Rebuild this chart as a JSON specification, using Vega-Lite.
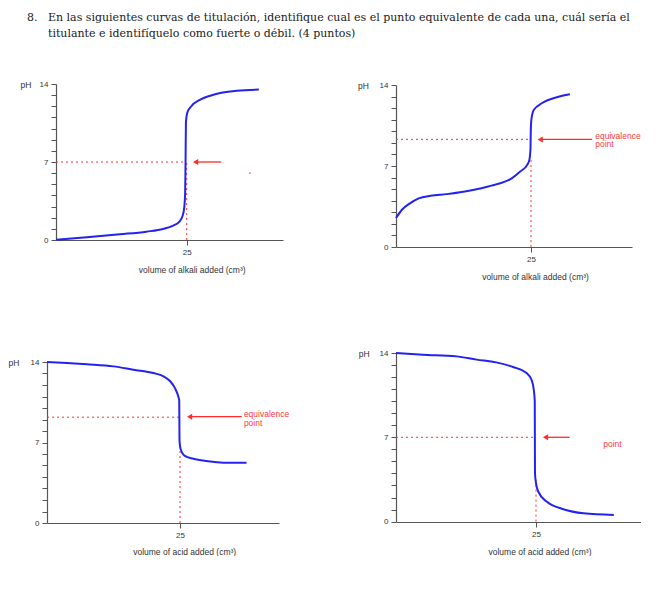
{
  "$schema": "https://vega.github.io/schema/vega-lite/v6.json",
  "background": "white",
  "padding": {"left": 8, "top": 12, "right": 0, "bottom": 0},
  "title": {
    "text": [
      "8.\u00a0\u00a0\u00a0En las siguientes curvas de titulación, identifique cual es el punto equivalente de cada una, cuál sería el",
      "\u200b\u00a0\u00a0\u00a0\u00a0\u00a0\u00a0titulante e identifíquelo como fuerte o débil. (4 puntos)"
    ],
    "anchor": "start",
    "frame": "bounds",
    "dx": 19,
    "font": "DejaVu Serif",
    "fontSize": 11,
    "fontWeight": "normal",
    "color": "#1a1a1a",
    "lineHeight": 16,
    "offset": 41
  },
  "config": {
    "view": {"stroke": null},
    "axis": {
      "grid": false,
      "domainColor": "#555555",
      "domainWidth": 1.2,
      "tickColor": "#555555",
      "tickSize": 5,
      "tickWidth": 1,
      "labelFont": "Liberation Sans",
      "labelFontSize": 8,
      "labelColor": "#333333",
      "labelPadding": 3,
      "labelFlush": false,
      "labelOverlap": false,
      "titleFont": "Liberation Sans",
      "titleFontSize": 8.5,
      "titleFontWeight": "normal",
      "titleColor": "#333333"
    }
  },
  "datasets": {
    "curves": [
      {"panel": 1, "v": 0, "pH": 0.02}, {"panel": 1, "v": 5.9, "pH": 0.24}, {"panel": 1, "v": 12.2, "pH": 0.51},
      {"panel": 1, "v": 17.3, "pH": 0.75}, {"panel": 1, "v": 20.5, "pH": 0.99}, {"panel": 1, "v": 22.4, "pH": 1.29},
      {"panel": 1, "v": 23.6, "pH": 1.65}, {"panel": 1, "v": 24.2, "pH": 2.15}, {"panel": 1, "v": 24.55, "pH": 3.0},
      {"panel": 1, "v": 24.7, "pH": 4.2}, {"panel": 1, "v": 24.78, "pH": 6.9}, {"panel": 1, "v": 24.85, "pH": 10.5},
      {"panel": 1, "v": 25.1, "pH": 11.4}, {"panel": 1, "v": 25.8, "pH": 11.96}, {"panel": 1, "v": 27.6, "pH": 12.6},
      {"panel": 1, "v": 29.5, "pH": 12.95}, {"panel": 1, "v": 31.4, "pH": 13.2}, {"panel": 1, "v": 34.6, "pH": 13.4},
      {"panel": 1, "v": 38.8, "pH": 13.5},
      {"panel": 2, "v": 0, "pH": 2.5}, {"panel": 2, "v": 1.1, "pH": 3.22}, {"panel": 2, "v": 2.65, "pH": 3.79},
      {"panel": 2, "v": 4.2, "pH": 4.2}, {"panel": 2, "v": 6.4, "pH": 4.43}, {"panel": 2, "v": 9.4, "pH": 4.57},
      {"panel": 2, "v": 12.5, "pH": 4.77}, {"panel": 2, "v": 15.6, "pH": 5.06}, {"panel": 2, "v": 18.7, "pH": 5.43},
      {"panel": 2, "v": 21.2, "pH": 5.86}, {"panel": 2, "v": 23.0, "pH": 6.52}, {"panel": 2, "v": 24.3, "pH": 7.1},
      {"panel": 2, "v": 24.7, "pH": 7.53}, {"panel": 2, "v": 24.9, "pH": 8.4}, {"panel": 2, "v": 24.95, "pH": 9.83},
      {"panel": 2, "v": 25.06, "pH": 10.98}, {"panel": 2, "v": 25.5, "pH": 11.84}, {"panel": 2, "v": 27.0, "pH": 12.42},
      {"panel": 2, "v": 29.8, "pH": 12.94}, {"panel": 2, "v": 32.2, "pH": 13.2},
      {"panel": 3, "v": 0, "pH": 14.0}, {"panel": 3, "v": 3.75, "pH": 13.91}, {"panel": 3, "v": 7.5, "pH": 13.8},
      {"panel": 3, "v": 12.5, "pH": 13.62}, {"panel": 3, "v": 16.25, "pH": 13.33}, {"panel": 3, "v": 20, "pH": 13.04},
      {"panel": 3, "v": 21.9, "pH": 12.75}, {"panel": 3, "v": 23.1, "pH": 12.35}, {"panel": 3, "v": 24.1, "pH": 11.68},
      {"panel": 3, "v": 24.7, "pH": 10.96}, {"panel": 3, "v": 24.85, "pH": 10.67}, {"panel": 3, "v": 24.9, "pH": 7.19},
      {"panel": 3, "v": 25.1, "pH": 6.46}, {"panel": 3, "v": 25.9, "pH": 5.83}, {"panel": 3, "v": 27.5, "pH": 5.59},
      {"panel": 3, "v": 30, "pH": 5.39}, {"panel": 3, "v": 33.1, "pH": 5.25}, {"panel": 3, "v": 37.5, "pH": 5.25},
      {"panel": 4, "v": 0, "pH": 14.0}, {"panel": 4, "v": 4.8, "pH": 13.86}, {"panel": 4, "v": 10.8, "pH": 13.72},
      {"panel": 4, "v": 14.4, "pH": 13.45}, {"panel": 4, "v": 17.9, "pH": 13.22}, {"panel": 4, "v": 20.9, "pH": 12.84},
      {"panel": 4, "v": 23.3, "pH": 12.34}, {"panel": 4, "v": 24.2, "pH": 11.78}, {"panel": 4, "v": 24.6, "pH": 10.95},
      {"panel": 4, "v": 24.78, "pH": 9.98}, {"panel": 4, "v": 24.8, "pH": 6.79}, {"panel": 4, "v": 24.82, "pH": 4.02},
      {"panel": 4, "v": 25.0, "pH": 3.19}, {"panel": 4, "v": 25.4, "pH": 2.5}, {"panel": 4, "v": 26.9, "pH": 1.66},
      {"panel": 4, "v": 29.9, "pH": 1.03}, {"panel": 4, "v": 33.5, "pH": 0.69}, {"panel": 4, "v": 38.9, "pH": 0.55}
    ],
    "guides": [
      {"panel": 1, "v": 0, "v2": 24.8, "pH": 7, "pH2": 7}, {"panel": 1, "v": 25, "v2": 25, "pH": 0, "pH2": 7},
      {"panel": 2, "v": 0, "v2": 24.8, "pH": 9.3, "pH2": 9.3}, {"panel": 2, "v": 25, "v2": 25, "pH": 0, "pH2": 7.8},
      {"panel": 3, "v": 0, "v2": 24.9, "pH": 9.2, "pH2": 9.2}, {"panel": 3, "v": 25, "v2": 25, "pH": 0, "pH2": 6.3},
      {"panel": 4, "v": 0, "v2": 24.8, "pH": 7, "pH2": 7}, {"panel": 4, "v": 25, "v2": 25, "pH": 0, "pH2": 3.5}
    ],
    "arrows": [
      {"panel": 1, "v": 26.7, "v2": 31.6, "pH": 7},
      {"panel": 2, "v": 26.7, "v2": 36.3, "pH": 9.3},
      {"panel": 3, "v": 26.8, "v2": 36.6, "pH": 9.25},
      {"panel": 4, "v": 26.7, "v2": 31.0, "pH": 7}
    ],
    "labels": [
      {"panel": 2, "v": 36.9, "pH": 9.32, "text": "equivalence"},
      {"panel": 2, "v": 36.9, "pH": 8.6, "text": "point"},
      {"panel": 3, "v": 37.0, "pH": 9.23, "text": "equivalence"},
      {"panel": 3, "v": 37.0, "pH": 8.47, "text": "point"},
      {"panel": 4, "v": 37.0, "pH": 6.17, "text": "point"}
    ],
    "dots": [
      {"panel": 1, "v": 37.1, "pH": 6.0}
    ]
  },
  "columns": 2,
  "align": "all",
  "bounds": "flush",
  "spacing": {"row": 99, "column": 104},
  "concat": [
    {
      "width": 245, "height": 170,
      "encoding": {
        "x": {"field": "v", "type": "quantitative",
          "scale": {"domain": [0, 43.42], "range": [9, 236], "nice": false, "zero": false},
          "axis": {"values": [25], "title": "volume of alkali added (cm³)", "titleX": 144.7, "titleY": 29, "titleBaseline": "middle", "titleAlign": "center", "offset": -14}},
        "y": {"field": "pH", "type": "quantitative",
          "scale": {"domain": [0, 14], "range": [156, 0], "nice": false, "zero": false},
          "axis": {"values": [0,1,2,3,4,5,6,7,8,9,10,11,12,13,14], "labelExpr": "datum.value % 7 === 0 ? datum.label : ''", "title": "pH", "titleAngle": 0, "titleAlign": "left", "titleBaseline": "middle", "titleX": -36, "titleY": 0, "offset": -9}}
      },
      "layer": [
        {"data": {"name": "guides"}, "transform": [{"filter": "datum.panel == 1"}],
         "mark": {"type": "rule", "color": "#ff3030", "strokeDash": [2, 3], "strokeWidth": 1},
         "encoding": {"x2": {"field": "v2"}, "y2": {"field": "pH2"}}},
        {"data": {"name": "curves"}, "transform": [{"filter": "datum.panel == 1"}],
         "mark": {"type": "line", "color": "#2323f0", "strokeWidth": 2, "interpolate": "monotone"}},
        {"data": {"name": "arrows"}, "transform": [{"filter": "datum.panel == 1"}],
         "mark": {"type": "rule", "color": "#ff2a2a", "strokeWidth": 1.3},
         "encoding": {"x2": {"field": "v2"}}},
        {"data": {"name": "arrows"}, "transform": [{"filter": "datum.panel == 1"}],
         "mark": {"type": "point", "shape": "triangle-left", "filled": true, "color": "#ff2a2a", "size": 36, "opacity": 1}},
        {"data": {"name": "dots"}, "transform": [{"filter": "datum.panel == 1"}],
         "mark": {"type": "square", "color": "#ff3030", "size": 2, "opacity": 1}}
      ]
    },
    {
      "width": 245, "height": 170,
      "encoding": {
        "x": {"field": "v", "type": "quantitative",
          "scale": {"domain": [0, 43.7], "range": [0, 236], "nice": false, "zero": false},
          "axis": {"values": [25], "title": "volume of alkali added (cm³)", "titleX": 139, "titleY": 29, "titleBaseline": "middle", "titleAlign": "center", "offset": -7}},
        "y": {"field": "pH", "type": "quantitative",
          "scale": {"domain": [0, 14], "range": [163, 1], "nice": false, "zero": false},
          "axis": {"values": [0,1,2,3,4,5,6,7,8,9,10,11,12,13,14], "labelExpr": "datum.value % 7 === 0 ? datum.label : ''", "title": "pH", "titleAngle": 0, "titleAlign": "left", "titleBaseline": "middle", "titleX": -38.4, "titleY": 1}}
      },
      "layer": [
        {"data": {"name": "guides"}, "transform": [{"filter": "datum.panel == 2"}],
         "mark": {"type": "rule", "color": "#ff3030", "strokeDash": [2, 3], "strokeWidth": 1},
         "encoding": {"x2": {"field": "v2"}, "y2": {"field": "pH2"}}},
        {"data": {"name": "curves"}, "transform": [{"filter": "datum.panel == 2"}],
         "mark": {"type": "line", "color": "#2323f0", "strokeWidth": 2, "interpolate": "monotone"}},
        {"data": {"name": "arrows"}, "transform": [{"filter": "datum.panel == 2"}],
         "mark": {"type": "rule", "color": "#ff2a2a", "strokeWidth": 1.3},
         "encoding": {"x2": {"field": "v2"}}},
        {"data": {"name": "arrows"}, "transform": [{"filter": "datum.panel == 2"}],
         "mark": {"type": "point", "shape": "triangle-left", "filled": true, "color": "#ff2a2a", "size": 36, "opacity": 1}},
        {"data": {"name": "labels"}, "transform": [{"filter": "datum.panel == 2"}],
         "mark": {"type": "text", "align": "left", "baseline": "alphabetic", "color": "#ff3b3b", "font": "Liberation Sans", "fontSize": 8.5},
         "encoding": {"text": {"field": "text"}}}
      ]
    },
    {
      "width": 245, "height": 170,
      "encoding": {
        "x": {"field": "v", "type": "quantitative",
          "scale": {"domain": [0, 43.6], "range": [0, 232], "nice": false, "zero": false},
          "axis": {"values": [25], "title": "volume of acid added (cm³)", "titleX": 137.2, "titleY": 28.3, "titleBaseline": "middle", "titleAlign": "center"}},
        "y": {"field": "pH", "type": "quantitative",
          "scale": {"domain": [0, 14], "range": [170, 9], "nice": false, "zero": false},
          "axis": {"values": [0,1,2,3,4,5,6,7,8,9,10,11,12,13,14], "labelExpr": "datum.value % 7 === 0 ? datum.label : ''", "title": "pH", "titleAngle": 0, "titleAlign": "left", "titleBaseline": "middle", "titleX": -39, "titleY": 9}}
      },
      "layer": [
        {"data": {"name": "guides"}, "transform": [{"filter": "datum.panel == 3"}],
         "mark": {"type": "rule", "color": "#ff3030", "strokeDash": [2, 3], "strokeWidth": 1},
         "encoding": {"x2": {"field": "v2"}, "y2": {"field": "pH2"}}},
        {"data": {"name": "curves"}, "transform": [{"filter": "datum.panel == 3"}],
         "mark": {"type": "line", "color": "#2323f0", "strokeWidth": 2, "interpolate": "monotone"}},
        {"data": {"name": "arrows"}, "transform": [{"filter": "datum.panel == 3"}],
         "mark": {"type": "rule", "color": "#ff2a2a", "strokeWidth": 1.3},
         "encoding": {"x2": {"field": "v2"}}},
        {"data": {"name": "arrows"}, "transform": [{"filter": "datum.panel == 3"}],
         "mark": {"type": "point", "shape": "triangle-left", "filled": true, "color": "#ff2a2a", "size": 36, "opacity": 1}},
        {"data": {"name": "labels"}, "transform": [{"filter": "datum.panel == 3"}],
         "mark": {"type": "text", "align": "left", "baseline": "alphabetic", "color": "#ff3b3b", "font": "Liberation Sans", "fontSize": 8.5},
         "encoding": {"text": {"field": "text"}}}
      ]
    },
    {
      "width": 245, "height": 170,
      "encoding": {
        "x": {"field": "v", "type": "quantitative",
          "scale": {"domain": [0, 43.75], "range": [0, 245], "nice": false, "zero": false},
          "axis": {"values": [25], "title": "volume of acid added (cm³)", "titleX": 143.5, "titleY": 29, "titleBaseline": "middle", "titleAlign": "center", "offset": -1}},
        "y": {"field": "pH", "type": "quantitative",
          "scale": {"domain": [0, 14], "range": [168.6, 0], "nice": false, "zero": false},
          "axis": {"values": [0,1,2,3,4,5,6,7,8,9,10,11,12,13,14], "labelExpr": "datum.value % 7 === 0 ? datum.label : ''", "title": "pH", "titleAngle": 0, "titleAlign": "left", "titleBaseline": "middle", "titleX": -37.7, "titleY": 0}}
      },
      "layer": [
        {"data": {"name": "guides"}, "transform": [{"filter": "datum.panel == 4"}],
         "mark": {"type": "rule", "color": "#ff3030", "strokeDash": [2, 3], "strokeWidth": 1},
         "encoding": {"x2": {"field": "v2"}, "y2": {"field": "pH2"}}},
        {"data": {"name": "curves"}, "transform": [{"filter": "datum.panel == 4"}],
         "mark": {"type": "line", "color": "#2323f0", "strokeWidth": 2, "interpolate": "monotone"}},
        {"data": {"name": "arrows"}, "transform": [{"filter": "datum.panel == 4"}],
         "mark": {"type": "rule", "color": "#ff2a2a", "strokeWidth": 1.3},
         "encoding": {"x2": {"field": "v2"}}},
        {"data": {"name": "arrows"}, "transform": [{"filter": "datum.panel == 4"}],
         "mark": {"type": "point", "shape": "triangle-left", "filled": true, "color": "#ff2a2a", "size": 36, "opacity": 1}},
        {"data": {"name": "labels"}, "transform": [{"filter": "datum.panel == 4"}],
         "mark": {"type": "text", "align": "left", "baseline": "alphabetic", "color": "#ff3b3b", "font": "Liberation Sans", "fontSize": 8.5},
         "encoding": {"text": {"field": "text"}}}
      ]
    }
  ]
}
